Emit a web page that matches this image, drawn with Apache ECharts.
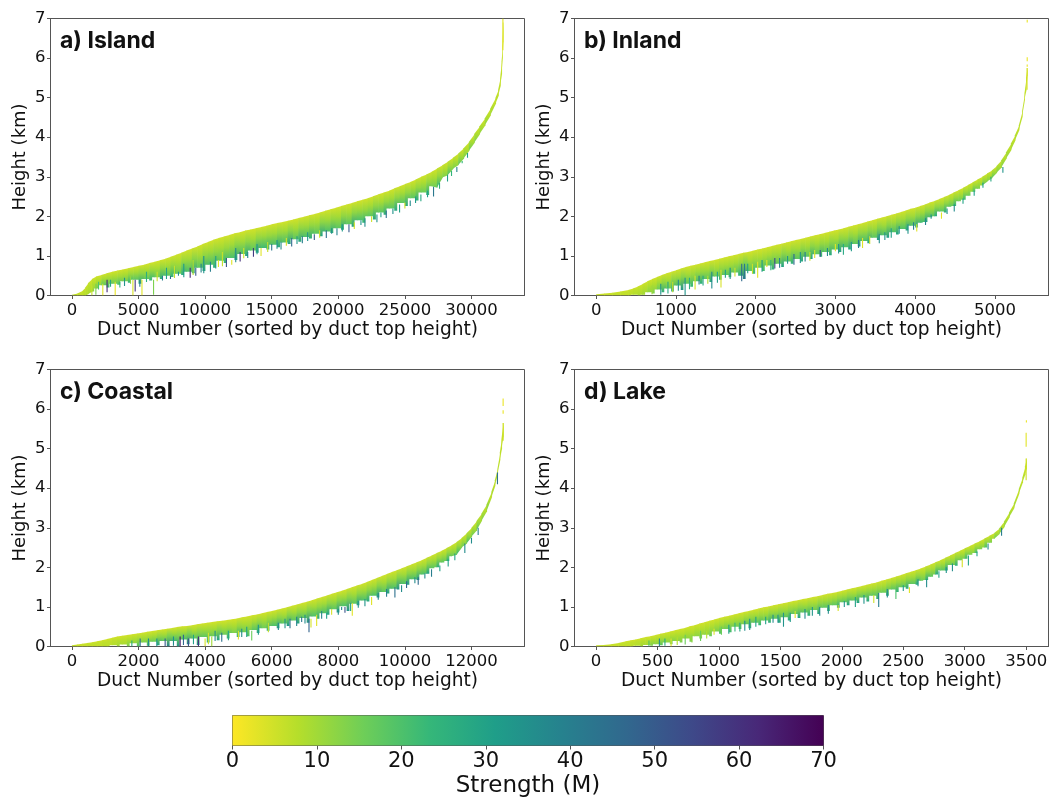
<!DOCTYPE html>
<html><head><meta charset="utf-8">
<style>html,body{margin:0;padding:0;background:#fff}#c{width:1051px;height:798px}</style>
<script src="https://cdn.jsdelivr.net/npm/echarts@6/dist/echarts.min.js"></script>
</head><body><div id="c"></div>
<script>
// rows: [duct number, duct top km, lower edge km, strength M]
const islandDucts=[[0,.02,0,6],[400,.05,0,6],[800,.12,0,7],[1000,.2,0,8],[1200,.31,.03,9],[1500,.42,.1,12],[1800,.48,.18,14],[2200,.52,.26,18],[2600,.56,.2,22],[3000,.6,.3,16],[3400,.63,.27,20],[3800,.66,.36,15],[4200,.69,.32,24],[4600,.72,.4,18],[5000,.75,.3,28],[5400,.78,.42,17],[5800,.82,.38,24],[6200,.85,.46,16],[6600,.89,.42,26],[7000,.93,.5,18],[7400,.98,.47,24],[7800,1.03,.55,16],[8200,1.08,.52,26],[8600,1.14,.6,20],[9000,1.19,.56,30],[9400,1.24,.7,18],[9800,1.3,.62,28],[10200,1.35,.78,20],[10600,1.41,.7,26],[11000,1.45,.88,18],[11400,1.49,.82,24],[11800,1.53,.95,20],[12200,1.57,.9,30],[12600,1.6,1.05,20],[13000,1.64,1.0,28],[13400,1.67,1.14,18],[13800,1.7,1.08,30],[14200,1.73,1.2,22],[14600,1.76,1.16,26],[15000,1.8,1.28,20],[15400,1.83,1.22,28],[15800,1.86,1.34,20],[16200,1.89,1.3,30],[16600,1.92,1.42,18],[17000,1.96,1.36,28],[17400,1.99,1.48,20],[17800,2.03,1.44,26],[18200,2.06,1.56,18],[18600,2.1,1.5,30],[19000,2.14,1.62,20],[19400,2.18,1.58,26],[19800,2.22,1.7,18],[20200,2.26,1.66,28],[20600,2.3,1.8,18],[21000,2.34,1.74,30],[21400,2.38,1.9,20],[21800,2.42,1.84,24],[22200,2.46,2.0,18],[22600,2.51,1.92,28],[23000,2.56,2.1,18],[23400,2.6,2.04,26],[23800,2.65,2.2,18],[24200,2.71,2.14,28],[24600,2.76,2.34,18],[25000,2.82,2.26,28],[25400,2.87,2.46,18],[25800,2.93,2.4,26],[26200,3.0,2.6,16],[26600,3.06,2.54,26],[27000,3.13,2.76,16],[27400,3.21,2.72,24],[27800,3.29,2.98,14],[28200,3.38,3.04,20],[28600,3.48,3.2,14],[29000,3.59,3.3,18],[29400,3.72,3.46,14],[29800,3.88,3.66,16],[30200,4.08,3.86,14],[30600,4.28,4.08,12],[31000,4.48,4.3,12],[31400,4.72,4.55,10],[31800,5.0,4.85,8],[32000,5.2,5.05,7],[32150,5.5,5.3,6],[32250,5.9,5.6,5],[32310,6.3,6.0,4],[32350,6.9,6.4,3]];
const islandSpikes=[[1500,.25,0,6],[1800,.3,.02,14],[2320,.3,0,3],[2640,.4,.08,62],[3250,.35,0,2],[3600,.35,.2,24],[4580,.4,0,4],[4750,.4,.1,60],[5100,.4,.22,40],[5260,.4,0,3],[6130,.4,.02,14],[6800,.5,.38,40],[7400,.5,.42,45],[8000,.6,.5,35],[8880,.7,.45,62],[9300,.7,.5,50],[9700,.8,.58,38],[10400,.85,.6,40],[11000,.9,.72,3],[11600,.95,.72,52],[12000,.9,.78,3],[12630,1.1,.86,60],[13200,1.1,.95,38],[13630,1.2,.98,58],[14200,1.2,1.0,3],[15000,1.3,1.14,42],[15700,1.35,1.16,36],[16500,1.45,1.24,46],[17300,1.5,1.32,40],[18200,1.55,1.4,50],[19100,1.65,1.45,44],[19900,1.7,1.52,38],[20800,1.8,1.6,50],[21200,1.85,1.68,4],[22000,1.95,1.74,36],[22900,2.05,1.85,34],[23600,2.15,1.96,44],[24600,2.3,2.1,30],[25400,2.4,2.26,36],[26200,2.55,2.38,28],[27150,2.75,2.5,42],[28200,3.05,2.88,30],[28900,3.25,3.12,38],[29700,3.6,3.48,30],[32358,7.0,6.2,3],
[2000,.35,.15,20],[2900,.4,.22,28],[3950,.45,.24,34],[4400,.5,.3,12],[5600,.6,.34,26],[6400,.6,.36,5],[7100,.7,.42,30],[7700,.75,.44,6],[8400,.8,.46,32],[9100,.9,.52,8],[9900,1.0,.56,34],[10800,1.0,.68,30],[11300,1.1,.74,6],[12300,1.2,.84,36],[12900,1.2,.94,5],[13900,1.3,1.04,32],[14700,1.35,1.1,6],[15400,1.4,1.18,34],[16100,1.45,1.26,4],[16900,1.5,1.3,32],[17700,1.6,1.38,34],[18600,1.65,1.46,5],[19500,1.7,1.56,36],[20300,1.8,1.62,32],[21700,1.9,1.78,34],[22500,2.0,1.86,5],[23200,2.1,1.98,30],[24100,2.2,2.06,34],[25000,2.35,2.2,5],[25800,2.5,2.34,32],[26700,2.65,2.48,30],[27600,2.85,2.7,26],[28500,3.15,3.02,24],[29300,3.4,3.34,24]];
const inlandDucts=[[0,.03,0,5],[100,.05,0,5],[200,.07,0,6],[300,.1,0,6],[400,.14,0,7],[460,.18,.02,8],[520,.23,0,9],[580,.29,.02,10],[640,.36,.08,12],[700,.42,.05,14],[760,.47,.15,16],[820,.52,.08,26],[880,.56,.18,16],[940,.6,.1,30],[1000,.64,.25,20],[1060,.68,.14,34],[1120,.72,.3,18],[1180,.75,.22,24],[1240,.78,.36,20],[1300,.81,.3,26],[1360,.84,.42,18],[1420,.87,.34,28],[1480,.9,.48,16],[1540,.93,.4,24],[1600,.96,.52,18],[1660,.99,.46,22],[1720,1.02,.58,18],[1780,1.05,.5,26],[1840,1.08,.42,40],[1900,1.1,.62,18],[1960,1.13,.55,24],[2020,1.16,.7,16],[2080,1.19,.62,22],[2140,1.22,.76,18],[2200,1.25,.66,26],[2260,1.28,.8,18],[2320,1.31,.72,30],[2380,1.34,.86,18],[2440,1.37,.8,26],[2500,1.4,.92,18],[2560,1.43,.86,28],[2620,1.46,.98,18],[2680,1.49,.92,30],[2740,1.52,1.04,18],[2800,1.55,.98,26],[2860,1.58,1.1,18],[2920,1.61,1.02,28],[2980,1.64,1.16,18],[3040,1.67,1.1,30],[3100,1.7,1.22,20],[3160,1.74,1.16,30],[3220,1.77,1.3,18],[3280,1.8,1.24,30],[3340,1.83,1.38,20],[3400,1.87,1.32,30],[3460,1.9,1.46,18],[3520,1.94,1.4,32],[3580,1.97,1.52,20],[3640,2.0,1.46,32],[3700,2.04,1.6,20],[3760,2.07,1.54,30],[3820,2.11,1.68,20],[3880,2.15,1.64,30],[3940,2.19,1.76,20],[4000,2.22,1.72,30],[4060,2.26,1.84,22],[4120,2.3,1.86,30],[4180,2.35,1.98,20],[4240,2.39,2.0,28],[4300,2.44,2.12,18],[4360,2.49,2.1,26],[4420,2.54,2.24,18],[4480,2.6,2.26,24],[4540,2.66,2.38,16],[4600,2.72,2.42,22],[4660,2.79,2.52,16],[4720,2.86,2.62,20],[4780,2.93,2.7,14],[4840,3.0,2.78,18],[4900,3.08,2.88,14],[4960,3.16,2.96,18],[5020,3.27,3.1,14],[5080,3.42,3.24,14],[5140,3.62,3.46,12],[5200,3.84,3.68,10],[5250,4.05,3.92,9],[5300,4.3,4.18,8],[5340,4.65,4.52,7],[5370,5.1,4.95,6],[5390,5.5,5.2,5],[5402,5.75,5.55,4]];
const inlandSpikes=[[810,.3,.02,34],[900,.35,.05,28],[1030,.4,.12,36],[1115,.45,0,34],[1240,.5,.15,4],[1340,.5,.25,28],[1450,.6,.18,36],[1565,.65,.2,4],[1680,.7,.42,34],[1825,.8,.36,46],[1860,.8,.42,42],[1960,.8,.55,6],[2025,.85,.45,3],[2240,.95,.68,54],[2140,.9,.72,3],[2480,1.05,.78,46],[2620,1.1,.86,40],[2740,1.15,.95,3],[2810,1.15,.98,50],[3000,1.3,1.12,3],[3100,1.3,1.03,28],[3340,1.45,1.2,3],[3550,1.55,1.32,36],[3700,1.7,1.46,30],[3910,1.8,1.56,34],[4020,1.8,1.62,3],[4130,1.95,1.78,38],[4330,2.1,1.94,3],[4490,2.3,2.12,36],[4740,2.65,2.52,30],[5100,3.25,3.1,34],[5403,5.75,5.2,4],[5405,5.84,5.78,2],[5405,6.02,5.92,2],[5405,6.97,6.9,2],
[700,.25,.03,10],[960,.35,.08,6],[1170,.45,.16,26],[1290,.5,.28,40],[1400,.5,.3,8],[1520,.6,.32,30],[1620,.65,.45,30],[1740,.7,.48,5],[1900,.8,.56,30],[2080,.9,.6,32],[2190,.9,.64,24],[2300,.95,.7,40],[2400,1.0,.8,34],[2560,1.1,.82,34],[2680,1.1,.88,5],[2900,1.2,1.0,36],[3040,1.3,1.06,34],[3200,1.35,1.12,32],[3290,1.4,1.2,40],[3430,1.5,1.3,5],[3620,1.6,1.4,34],[3800,1.75,1.56,34],[3980,1.85,1.66,40],[4200,2.05,1.94,36],[4400,2.2,2.06,34],[4600,2.45,2.32,30],[4850,2.85,2.72,30],[4950,3.0,2.88,28]];
const coastalDucts=[[0,.03,0,5],[150,.05,0,5],[300,.07,0,5],[450,.09,0,6],[600,.11,0,6],[750,.13,0,6],[900,.16,0,7],[1050,.19,0,7],[1200,.22,.03,8],[1350,.25,0,10],[1500,.27,.05,9],[1650,.29,0,14],[1800,.31,.08,12],[1950,.33,0,20],[2100,.35,.1,14],[2250,.37,.02,22],[2400,.39,.12,16],[2550,.41,.03,30],[2700,.43,.14,18],[2850,.45,0,40],[3000,.47,.14,22],[3150,.49,0,34],[3300,.51,.18,20],[3450,.52,.06,38],[3600,.54,.2,18],[3750,.56,.04,34],[3900,.58,.24,18],[4050,.6,.1,26],[4200,.62,.26,16],[4350,.64,.16,30],[4500,.65,.3,16],[4650,.67,.2,24],[4800,.69,.34,14],[4950,.71,.24,26],[5100,.74,.36,16],[5250,.76,.26,20],[5400,.79,.42,18],[5550,.81,.34,28],[5700,.84,.46,16],[5850,.87,.4,26],[6000,.9,.52,20],[6150,.93,.46,30],[6300,.96,.58,18],[6450,.99,.52,32],[6600,1.03,.66,18],[6750,1.06,.58,30],[6900,1.1,.72,18],[7050,1.13,.6,34],[7200,1.17,.76,20],[7350,1.21,.7,28],[7500,1.25,.84,20],[7650,1.29,.8,30],[7800,1.33,.94,18],[7950,1.37,.86,32],[8100,1.41,1.02,20],[8250,1.45,.9,34],[8400,1.5,1.08,18],[8550,1.54,1.04,30],[8700,1.58,1.16,20],[8850,1.63,1.14,28],[9000,1.68,1.28,20],[9150,1.73,1.24,32],[9300,1.78,1.38,18],[9450,1.83,1.34,30],[9600,1.88,1.46,20],[9750,1.93,1.44,34],[9900,1.98,1.58,20],[10050,2.03,1.56,32],[10200,2.08,1.7,20],[10350,2.13,1.68,30],[10500,2.18,1.82,20],[10650,2.24,1.84,30],[10800,2.3,1.98,18],[10950,2.36,2.0,26],[11100,2.42,2.12,18],[11250,2.49,2.16,26],[11400,2.56,2.28,16],[11550,2.64,2.32,24],[11700,2.74,2.5,16],[11850,2.86,2.6,22],[12000,3.0,2.78,16],[12150,3.17,2.94,18],[12300,3.36,3.18,14],[12450,3.59,3.42,14],[12600,3.92,3.78,10],[12700,4.2,4.06,9],[12780,4.5,4.36,8],[12850,4.9,4.72,7],[12900,5.25,5.0,6],[12945,5.65,5.3,5]];
const coastalSpikes=[[2300,.2,0,36],[2800,.2,0,50],[3250,.25,0,66],[3500,.2,0,52],[3800,.25,0,60],[4200,.25,0,10],[4000,.2,0,4],[4500,.35,.12,44],[5000,.4,.18,3],[5400,.4,.15,16],[5100,.45,.24,36],[6200,.6,.42,36],[6550,.7,.46,44],[6900,.75,.62,42],[7120,.7,.36,48],[7180,.7,.48,4],[7350,.8,.52,3],[7650,.85,.7,30],[8000,.95,.8,36],[8200,1.0,.85,52],[8420,1.1,.78,3],[8370,1.1,.9,30],[8800,1.2,1.02,34],[9000,1.25,1.05,3],[9700,1.5,1.24,44],[9900,1.55,1.38,36],[10400,1.75,1.56,46],[10800,1.95,1.76,40],[11300,2.2,2.02,30],[11800,2.6,2.36,36],[12200,3.0,2.82,40],[12780,4.4,4.1,44],[12950,5.65,5.2,5],[12950,5.97,5.88,2],[12950,6.27,6.08,2],
[1800,.15,0,26],[2050,.2,0,44],[2550,.2,0,34],[3050,.25,.02,36],[3350,.3,.04,46],[3650,.3,.06,30],[4100,.35,.06,5],[4300,.4,.14,36],[4700,.4,.16,28],[5250,.5,.24,30],[5600,.55,.3,32],[5900,.6,.36,6],[6400,.7,.46,34],[6750,.75,.52,38],[7000,.8,.58,36],[7500,.9,.7,38],[7800,.95,.8,4],[8100,1.0,.92,36],[8600,1.15,.98,34],[9200,1.35,1.18,38],[9450,1.45,1.26,40],[10050,1.65,1.48,46],[10300,1.75,1.6,36],[10600,1.85,1.72,36],[11050,2.05,1.9,30],[11500,2.35,2.18,30],[12000,2.75,2.6,36]];
const lakeDucts=[[0,.03,0,5],[60,.04,0,5],[120,.06,0,5],[180,.09,0,6],[240,.13,0,6],[280,.16,0,7],[320,.18,.02,8],[360,.21,0,10],[400,.24,.04,9],[440,.26,.02,14],[480,.29,.06,12],[520,.32,.03,18],[560,.35,.1,12],[600,.38,.06,16],[640,.41,.14,12],[680,.44,.1,14],[720,.47,.2,12],[760,.51,.12,14],[800,.54,.26,12],[840,.58,.2,14],[880,.61,.3,12],[920,.65,.26,16],[960,.68,.38,14],[1000,.72,.32,20],[1040,.75,.44,16],[1080,.78,.36,22],[1120,.81,.5,16],[1160,.84,.44,20],[1200,.87,.56,18],[1240,.9,.46,28],[1280,.93,.6,18],[1320,.96,.54,24],[1360,.99,.66,16],[1400,1.01,.6,26],[1440,1.04,.7,18],[1480,1.07,.6,30],[1520,1.09,.74,18],[1560,1.12,.66,28],[1600,1.15,.82,18],[1640,1.17,.72,30],[1680,1.2,.86,18],[1720,1.22,.78,26],[1760,1.25,.92,16],[1800,1.27,.82,30],[1840,1.3,.98,18],[1880,1.33,.9,26],[1920,1.35,1.04,18],[1960,1.38,.98,28],[2000,1.41,1.12,18],[2040,1.44,1.04,30],[2080,1.47,1.16,18],[2120,1.5,1.1,30],[2160,1.53,1.24,18],[2200,1.56,1.14,28],[2240,1.59,1.28,18],[2280,1.62,1.2,26],[2320,1.66,1.36,16],[2360,1.69,1.28,28],[2400,1.73,1.44,18],[2440,1.77,1.38,26],[2480,1.81,1.5,18],[2520,1.85,1.46,28],[2560,1.89,1.58,18],[2600,1.93,1.56,28],[2640,1.97,1.66,16],[2680,2.02,1.68,26],[2720,2.07,1.76,18],[2760,2.13,1.82,28],[2800,2.18,1.92,18],[2840,2.24,1.92,28],[2880,2.3,2.06,16],[2920,2.36,2.04,26],[2960,2.42,2.18,16],[3000,2.48,2.22,22],[3040,2.54,2.32,14],[3080,2.6,2.36,20],[3120,2.66,2.46,14],[3160,2.73,2.5,20],[3200,2.8,2.62,14],[3240,2.87,2.72,16],[3280,2.98,2.84,14],[3320,3.16,3.02,12],[3360,3.38,3.26,11],[3400,3.62,3.5,10],[3440,3.98,3.86,9],[3470,4.28,4.15,8],[3490,4.55,4.35,6],[3502,4.75,4.5,5]];
const lakeSpikes=[[430,.15,0,20],[515,.2,0,36],[610,.2,0,3],[725,.3,.05,16],[780,.3,.1,12],[960,.45,.3,3],[1020,.5,.3,16],[1130,.6,.38,24],[1210,.65,.4,36],[1300,.75,.5,30],[1480,.8,.6,34],[1525,.85,.5,34],[1620,.9,.72,3],[1700,.95,.7,36],[1890,1.05,.83,36],[1970,1.05,.9,4],[2110,1.25,1.0,30],[2300,1.35,1.0,40],[2440,1.45,1.2,20],[2550,1.5,1.35,3],[2690,1.7,1.5,36],[2900,2.1,1.9,36],[3030,2.3,2.05,30],[3190,2.6,2.45,36],[3300,3.0,2.8,40],[3500,4.75,4.2,5],[3500,5.4,5.05,3],[3502,5.72,5.66,2],
[560,.2,.02,26],[660,.25,.04,8],[850,.4,.14,16],[900,.4,.2,8],[1080,.55,.32,30],[1170,.6,.38,28],[1250,.7,.42,34],[1380,.75,.56,30],[1440,.8,.6,36],[1580,.85,.62,32],[1760,1.0,.78,34],[1820,1.0,.78,36],[2020,1.15,1.0,34],[2180,1.3,1.08,34],[2260,1.3,1.1,5],[2370,1.45,1.24,36],[2500,1.55,1.4,32],[2620,1.7,1.52,34],[2790,1.9,1.74,30],[2850,2.0,1.86,34],[2980,2.2,2.0,4],[3100,2.4,2.28,30]];
const islandTicks=[0,5000,10000,15000,20000,25000,30000];
const inlandTicks=[0,1000,2000,3000,4000,5000];
const coastalTicks=[0,2000,4000,6000,8000,10000,12000];
const lakeTicks=[0,500,1000,1500,2000,2500,3000,3500];
const panelTitles=['a) Island','b) Inland','c) Coastal','d) Lake'];
const strengthRange=[0,70];

const viridis=['#fde725','#b5de2b','#6ece58','#35b779','#1f9e89','#26828e','#31688e','#3e4989','#482878','#440154'];
function col(s){const t=Math.max(0,Math.min(1,s/70))*(viridis.length-1),i=Math.min(Math.floor(t),viridis.length-2);
  return echarts.color.lerp(t-i,[viridis[i],viridis[i+1]]);}

const layout=[
 {l:50.5,t:18.5,xr:[-1607,33979],ticks:islandTicks,d:islandDucts,s:islandSpikes},
 {l:574.5,t:18.5,xr:[-272,5672],ticks:inlandTicks,d:inlandDucts,s:inlandSpikes},
 {l:50.5,t:369.5,xr:[-643,13592],ticks:coastalTicks,d:coastalDucts,s:coastalSpikes},
 {l:574.5,t:369.5,xr:[-176,3682],ticks:lakeTicks,d:lakeDucts,s:lakeSpikes}];
const W=474,H=277,font='DejaVu Sans',axisC='#555',txt='#111';
const grids=[],xAxes=[],yAxes=[],series=[],titles=[];
layout.forEach((p,i)=>{
 grids.push({left:p.l,top:p.t,width:W,height:H,outerBoundsMode:'none',show:true,borderColor:axisC,borderWidth:1,backgroundColor:'transparent'});
 xAxes.push({type:'value',gridIndex:i,min:p.xr[0],max:p.xr[1],splitLine:{show:false},
  axisLine:{onZero:false,lineStyle:{color:axisC}},
  axisTick:{customValues:p.ticks,length:3.5,lineStyle:{color:axisC}},
  axisLabel:{customValues:p.ticks,color:txt,fontFamily:font,fontSize:16.5,margin:7,formatter:v=>String(v)},
  name:'Duct Number (sorted by duct top height)',nameLocation:'middle',nameGap:34,
  nameTextStyle:{color:txt,fontFamily:font,fontSize:18.6,verticalAlign:'middle',lineHeight:20}});
 yAxes.push({type:'value',gridIndex:i,min:0,max:7,interval:1,splitLine:{show:false},
  axisLine:{onZero:false,lineStyle:{color:axisC}},axisTick:{length:3.5,lineStyle:{color:axisC}},
  axisLabel:{color:txt,fontFamily:font,fontSize:16.5,margin:5},
  name:'Height (km)',nameLocation:'middle',nameGap:30,nameTextStyle:{color:txt,fontFamily:font,fontSize:18,verticalAlign:'middle',lineHeight:20}});
 series.push({type:'custom',xAxisIndex:i,yAxisIndex:i,clip:true,silent:true,animation:false,
  data:p.d.map((r,j)=>{const n=p.d[j+1]||r;return [r[0],r[1],r[2],r[3],n[0],n[1],n[2]];}),
  encode:{x:0,y:1},
  renderItem(par,api){
   const a=api.coord([api.value(0),api.value(1)]),b=api.coord([api.value(4),api.value(5)]),
         lo=api.coord([api.value(0),api.value(2)])[1],loN=api.coord([api.value(4),api.value(6)])[1],
         s=api.value(3),xr=b[0]+.6,mx=a[0]+(xr-a[0])*.5,sh=Math.min(lo,loN),steep=a[1]-b[1]>3;
   const pts=steep?[a,[xr,b[1]],[xr,loN],[a[0],lo]]:[a,[xr,b[1]],[xr,sh],[mx,sh],[mx,lo],[a[0],lo]];
   return {type:'polygon',shape:{points:pts},
    style:{fill:new echarts.graphic.LinearGradient(0,0,0,1,[{offset:0,color:col(4.5)},{offset:.45,color:col(5+s*.24)},{offset:1,color:col(s)}])}};
  }});
 series.push({type:'custom',xAxisIndex:i,yAxisIndex:i,clip:true,silent:true,animation:false,
  data:p.s,encode:{x:0,y:1},
  renderItem(par,api){
   const a=api.coord([api.value(0),api.value(1)]),b=api.coord([api.value(0),api.value(2)]);
   return {type:'line',shape:{x1:a[0],y1:a[1],x2:b[0],y2:b[1]},style:{stroke:col(api.value(3)),lineWidth:1.1}};
  }});
 titles.push({text:panelTitles[i],left:p.l+9.5,top:p.t+11,padding:0,textStyle:{fontFamily:'Inter',fontWeight:'bold',fontSize:23,color:'#111'}});
});
// colour bar
const cbi=4;
grids.push({left:232.5,top:715.5,width:591,height:30,outerBoundsMode:'none',show:true,borderColor:axisC,borderWidth:1,backgroundColor:'transparent'});
xAxes.push({type:'value',gridIndex:cbi,min:strengthRange[0],max:strengthRange[1],interval:10,splitLine:{show:false},
 axisLine:{lineStyle:{color:axisC}},axisTick:{length:4,lineStyle:{color:axisC}},
 axisLabel:{color:txt,fontFamily:font,fontSize:21,margin:6},
 name:'Strength (M)',nameLocation:'middle',nameGap:41,nameTextStyle:{color:txt,fontFamily:font,fontSize:23,verticalAlign:'middle',lineHeight:24}});
yAxes.push({type:'value',gridIndex:cbi,min:0,max:1,show:false});
series.push({type:'custom',xAxisIndex:cbi,yAxisIndex:cbi,silent:true,animation:false,data:[strengthRange],encode:{x:[0,1]},
 renderItem(par,api){
  const a=api.coord([api.value(0),1]),b=api.coord([api.value(1),0]);
  return {type:'rect',shape:{x:a[0],y:a[1],width:b[0]-a[0],height:b[1]-a[1]},
   style:{fill:new echarts.graphic.LinearGradient(0,0,1,0,viridis.map((c,k)=>({offset:k/(viridis.length-1),color:c})))}};
 }});
const chart=echarts.init(document.getElementById('c'),null,{renderer:'canvas'});
chart.setOption({animation:false,backgroundColor:'#fff',title:titles,grid:grids,xAxis:xAxes,yAxis:yAxes,series});
</script></body></html>
